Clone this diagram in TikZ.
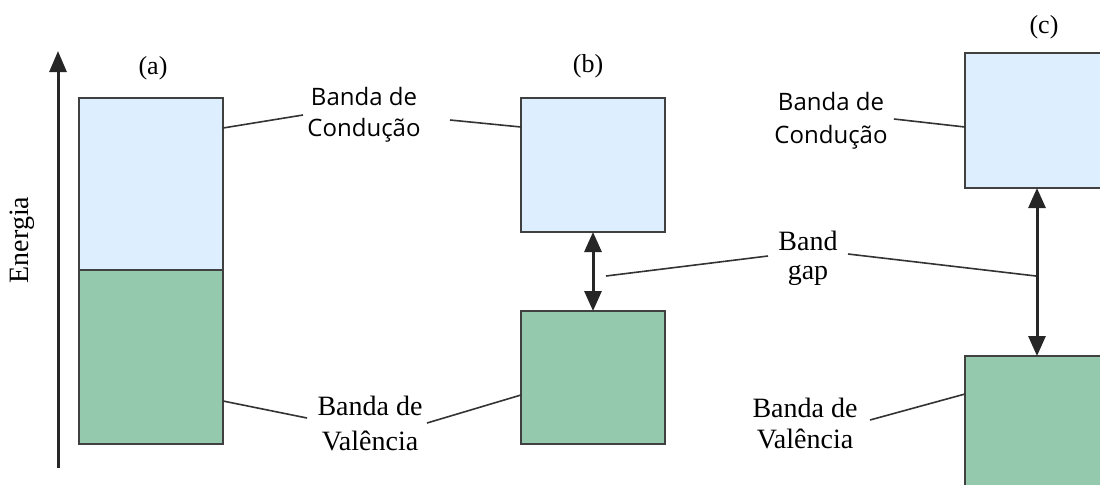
\documentclass[tikz,border=0pt]{standalone}
\usepackage{fontspec}
\setmainfont{Liberation Serif}
\newfontfamily\labelsans{Open Sans}
\usetikzlibrary{arrows.meta,calc}
\definecolor{condfill}{HTML}{DDEEFF}
\definecolor{valfill}{HTML}{94C9AE}
\definecolor{edgegray}{HTML}{404040}
\begin{document}
\begin{tikzpicture}[x=0.5pt,y=-0.5pt,
  band/.style={draw=edgegray,line width=1pt,inner sep=0pt,outer sep=0pt,
    anchor=north west,minimum width=72pt},
  cond/.style={band,fill=condfill},
  val/.style={band,fill=valfill},
  leader/.style={draw=black!80,line width=0.8pt},
  axisline/.style={draw=black!85,line width=1.5pt,-{Triangle[length=10.5pt,width=8.5pt]}},
  gaparrow/.style={draw=black!85,line width=1.5pt,
    {Triangle[length=10pt,width=8.5pt]}-{Triangle[length=10pt,width=8.5pt]}},
  sanslbl/.style={font=\labelsans\fontsize{12pt}{14pt}\selectfont,anchor=base,inner sep=0pt},
  seriflbl/.style={font=\fontsize{14pt}{16pt}\selectfont,anchor=base,inner sep=0pt},
  title/.style={font=\fontsize{13pt}{15pt}\selectfont,inner sep=0pt}]

\useasboundingbox (0,0) rectangle (1100,484);
\clip (0,0) rectangle (1100,484);

% energy axis
\coordinate (axbot) at (58,468);
\coordinate (axtop) at (58,51);
\draw[axisline] (axbot) -- (axtop);
\node[seriflbl,anchor=center,rotate=90] (energia) at (22,240) {Energia};

% (a) metal: overlapping bands
\node[title] (ta) at (153,68) {(a)};
\node[cond,minimum height=86pt] (aTop) at (79,98) {};
\node[val,minimum height=87pt] (aBot) at (79,270) {};

% (b) semiconductor
\node[title] (tb) at (588,66) {(b)};
\node[cond,minimum height=67pt] (bUp) at (521,98) {};
\node[val,minimum height=66.5pt] (bLo) at (521,311) {};
\draw[gaparrow] (bUp.south) -- (bLo.north);

% (c) insulator
\node[title] (tc) at (1044,27) {(c)};
\node[cond,minimum height=67.5pt] (cUp) at (965,53) {};
\node[val,minimum height=80pt] (cLo) at (965,356) {};
\draw[gaparrow] (cUp.south) -- (cLo.north);

% labels
\node[sanslbl] (condA1) at (364,105) {Banda de};
\node[sanslbl] (condA2) at (364,136) {Condução};
\node[sanslbl] (condB1) at (831,110) {Banda de};
\node[sanslbl] (condB2) at (831,143) {Condução};
\node[seriflbl] (valA1) at (370,415) {Banda de};
\node[seriflbl] (valA2) at (370,450) {Valência};
\node[seriflbl] (valB1) at (805,417) {Banda de};
\node[seriflbl] (valB2) at (805,448) {Valência};
\node[seriflbl] (gap1) at (808,250) {Band};
\node[seriflbl] (gap2) at (808,279) {gap};

% leader end points next to the labels
\coordinate (lcA) at (303,115);
\coordinate (rcA) at (450,120);
\coordinate (rcB) at (894,119);
\coordinate (lvA) at (307,418);
\coordinate (rvA) at (427,423);
\coordinate (rvB) at (870,420);
\coordinate (lg) at (768,256);
\coordinate (rg) at (848,254);
\coordinate (bArr) at (606,276);
\coordinate (cArr) at (1036,276);

% leaders
\draw[leader] ($(aTop.north east)+(0,30)$) -- (lcA);
\draw[leader] (rcA) -- ($(bUp.north west)+(0,29)$);
\draw[leader] (rcB) -- ($(cUp.north west)+(0,74)$);
\draw[leader] ($(aBot.north east)+(0,131)$) -- (lvA);
\draw[leader] (rvA) -- ($(bLo.north west)+(0,84)$);
\draw[leader] (rvB) -- ($(cLo.north west)+(0,38)$);
\draw[leader] (bArr) -- (lg);
\draw[leader] (rg) -- (cArr);
\end{tikzpicture}
\end{document}
